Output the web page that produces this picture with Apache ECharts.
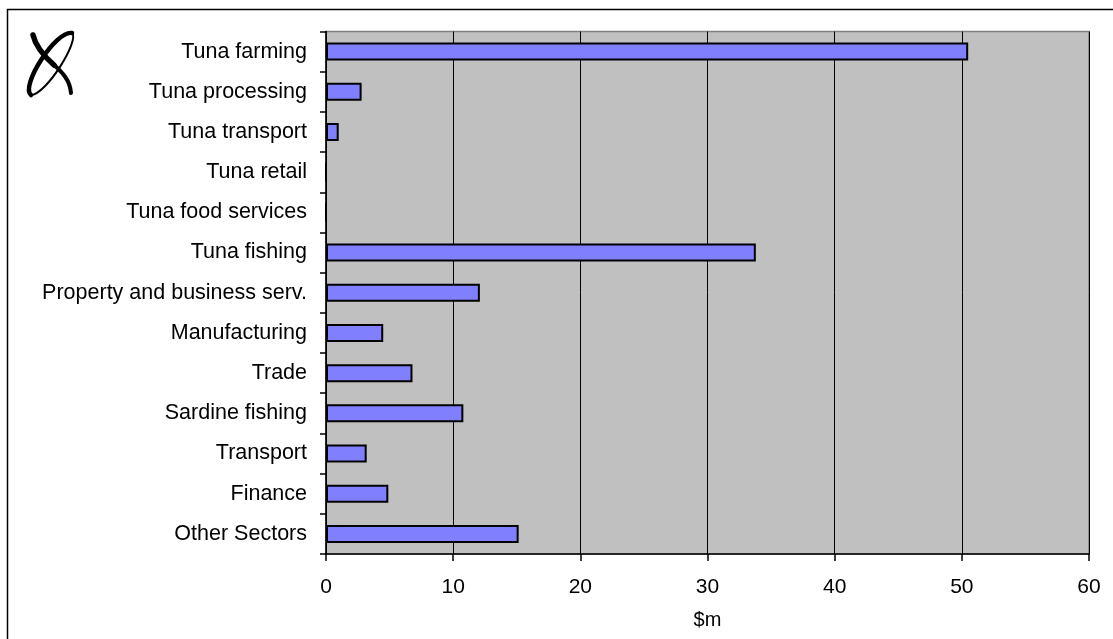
<!DOCTYPE html>
<html>
<head>
<meta charset="utf-8">
<script src="https://cdn.jsdelivr.net/npm/echarts@6/dist/echarts.min.js"></script>
<style>
  html, body { margin: 0; padding: 0; background: #fff; }
  #chart { width: 1113px; height: 639px; }
</style>
</head>
<body>
<div id="chart"></div>
<script>
// Sector contributions, $m
const sectors = [
  'Tuna farming', 'Tuna processing', 'Tuna transport', 'Tuna retail',
  'Tuna food services', 'Tuna fishing', 'Property and business serv.',
  'Manufacturing', 'Trade', 'Sardine fishing', 'Transport', 'Finance',
  'Other Sectors'
];
const values = [50.5, 2.8, 1.0, 0, 0, 33.8, 12.1, 4.5, 6.8, 10.8, 3.2, 4.9, 15.15];
const xTicks = { min: 0, max: 60, interval: 10 };
const axisTitle = '$m';

const FONT = '"Liberation Sans", Arial, sans-serif';
const chart = echarts.init(document.getElementById('chart'), null, { renderer: 'canvas' });

// emblem strokes: a tilted loop with a stroke crossing it
function curve(x1, y1, cpx1, cpy1, cpx2, cpy2, x2, y2, w) {
  return {
    type: 'bezierCurve', silent: true,
    shape: { x1, y1, cpx1, cpy1, cpx2, cpy2, x2, y2 },
    style: { fill: null, stroke: '#000', lineWidth: w, lineCap: 'round' }
  };
}

chart.setOption({
  backgroundColor: '#ffffff',
  animation: false,
  grid: {
    left: 326, right: 24, top: 31.5, bottom: 85,
    show: true, backgroundColor: '#c0c0c0', borderColor: '#808080', borderWidth: 1.5
  },
  xAxis: {
    type: 'value',
    min: xTicks.min, max: xTicks.max, interval: xTicks.interval,
    name: axisTitle, nameLocation: 'middle', nameGap: 56,
    nameTextStyle: { color: '#000', fontFamily: FONT, fontSize: 20 },
    axisLine: { show: true, lineStyle: { color: '#000', width: 1.5 } },
    axisTick: { show: true, length: 7, lineStyle: { color: '#000', width: 1.5 } },
    axisLabel: { color: '#000', fontFamily: FONT, fontSize: 21, margin: 23 },
    splitLine: { show: true, lineStyle: { color: '#000', width: 1 } }
  },
  yAxis: {
    type: 'category', data: sectors, inverse: true,
    axisLine: { show: true, lineStyle: { color: '#000', width: 1.5 } },
    axisTick: { show: true, length: 6, lineStyle: { color: '#000', width: 1.5 } },
    axisLabel: { color: '#000', fontFamily: FONT, fontSize: 21.5, margin: 19 },
    splitLine: { show: false }
  },
  series: [{
    type: 'bar', data: values, barWidth: 18,
    itemStyle: { color: '#8080ff', borderColor: '#000', borderWidth: 2 }
  }],
  graphic: [
    // outer frame
    { type: 'rect', silent: true, z: -1,
      shape: { x: 7.5, y: 9.5, width: 1120, height: 650 },
      style: { fill: null, stroke: '#000', lineWidth: 1.5 } },
    curve(31, 95, 20, 86, 56, 30, 72, 33, 4.5),
    curve(72, 33, 80, 40, 46, 95, 31, 95, 2),
    curve(33, 35, 36, 48, 46, 58, 54, 65, 5.5),
    curve(54, 65, 62, 72, 70, 80, 71, 93, 4)
  ]
});
</script>
</body>
</html>
